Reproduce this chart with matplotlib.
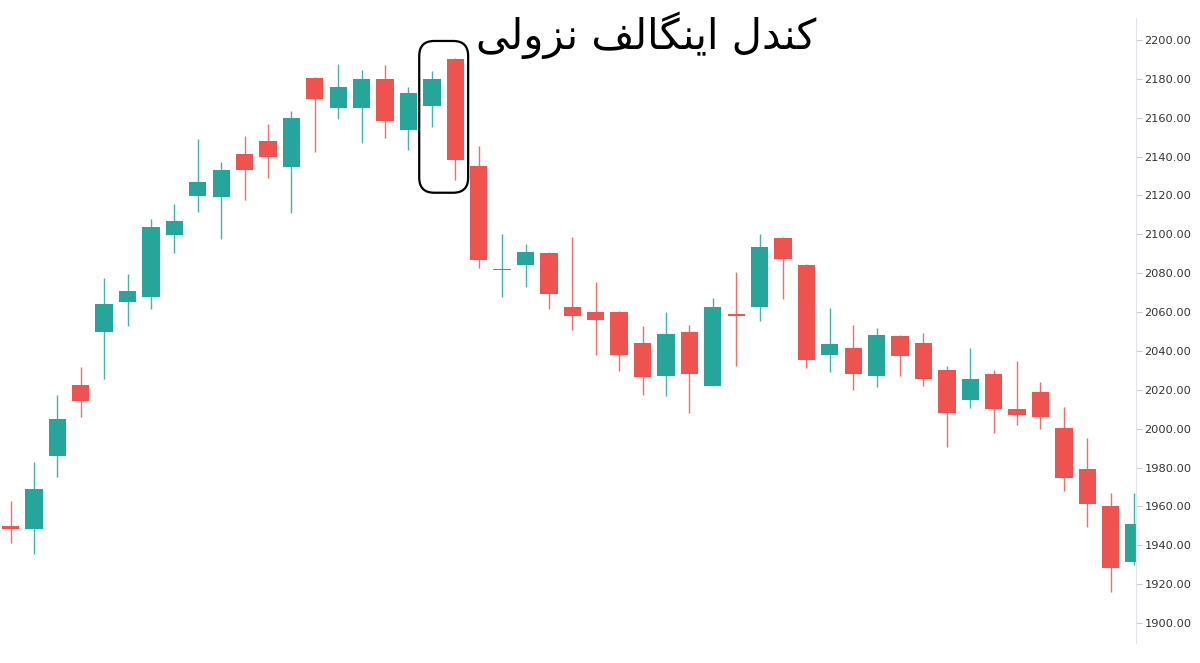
import numpy as np
import matplotlib
matplotlib.use("Agg")
import matplotlib.pyplot as plt
from matplotlib.patches import FancyBboxPatch
from matplotlib.transforms import IdentityTransform

# daily candles
opens = [1950.0, 1948.2, 1985.8, 2022.5, 2049.6, 2065.4, 2067.5, 2099.9, 2119.7, 2119.4,
         2141.1, 2147.8, 2134.9, 2180.3, 2165.2, 2165.2, 2179.8, 2153.7, 2166.2, 2190.2,
         2135.2, 2081.4, 2084.2, 2090.6, 2062.4, 2059.9, 2060.2, 2044.2, 2027.1, 2049.9,
         2022.1, 2059.0, 2062.6, 2098.0, 2084.2, 2037.8, 2041.4, 2027.1, 2047.8, 2044.2,
         2030.0, 2014.9, 2028.1, 2010.1, 2018.7, 2000.2, 1979.1, 1960.2, 1931.5]
highs = [1962.8, 1983.0, 2017.3, 2031.6, 2077.5, 2079.8, 2108.0, 2115.8, 2148.8, 2137.4,
         2150.4, 2156.6, 2163.4, 2180.8, 2187.5, 2184.4, 2187.1, 2176.0, 2184.2, 2190.6,
         2145.5, 2100.2, 2094.9, 2091.0, 2098.8, 2075.3, 2060.5, 2052.8, 2059.9, 2053.3,
         2067.1, 2080.8, 2100.2, 2098.5, 2084.5, 2062.2, 2053.2, 2052.0, 2048.2, 2049.1,
         2032.2, 2041.7, 2030.2, 2034.8, 2024.2, 2011.3, 1995.0, 1967.0, 1966.7]
lows = [1941.2, 1935.3, 1975.3, 2006.2, 2025.8, 2052.6, 2061.7, 2090.3, 2111.5, 2097.7,
        2117.7, 2129.0, 2111.0, 2142.2, 2159.2, 2146.8, 2149.7, 2143.4, 2155.1, 2128.0,
        2082.8, 2067.9, 2072.7, 2061.4, 2050.8, 2037.9, 2029.8, 2017.3, 2016.9, 2008.2,
        2021.8, 2032.4, 2055.6, 2066.9, 2031.1, 2029.0, 2019.9, 2021.6, 2027.1, 2021.9,
        1990.7, 2010.8, 1997.9, 2001.9, 1999.8, 1967.9, 1949.6, 1916.1, 1929.8]
closes = [1948.5, 1968.9, 2005.0, 2014.2, 2064.0, 2070.7, 2103.6, 2106.8, 2127.1, 2133.1,
          2133.1, 2139.6, 2160.0, 2169.5, 2175.7, 2179.8, 2158.3, 2172.6, 2179.8, 2138.2,
          2086.8, 2081.8, 2091.1, 2069.3, 2058.1, 2055.9, 2037.7, 2026.7, 2048.7, 2028.1,
          2062.8, 2058.1, 2093.3, 2087.3, 2035.3, 2043.4, 2028.1, 2048.2, 2037.4, 2025.7,
          2008.1, 2025.6, 2010.1, 2007.0, 2006.2, 1974.5, 1961.1, 1928.5, 1950.9]
price_ticks = [1900, 1920, 1940, 1960, 1980, 2000, 2020, 2040, 2060, 2080,
               2100, 2120, 2140, 2160, 2180, 2200]
engulf = [18, 19]  # the two candles inside the frame

# title "کندل اینگالف نزولی" written with presentation forms in visual order,
# since matplotlib does no arabic shaping / rtl
w_nozooli = "\ufbfd\ufedf\ufeed\ufeb0\ufee7"
w_engulf = "\ufed2\ufedf\ufe8e\ufb95\ufee8\ufbfe\ufe8d"
w_candle = "\ufedd\ufeaa\ufee8\ufb90"
title = w_nozooli + " " + w_engulf + " " + w_candle

up_col = "#26a69a"
down_col = "#ef5350"

o = np.array(opens)
h = np.array(highs)
l = np.array(lows)
c = np.array(closes)
idx = np.arange(len(o))
cols = [up_col if cc >= oo else down_col for oo, cc in zip(o, c)]

fig = plt.figure(figsize=(12, 6.63), dpi=100)
ax = fig.add_axes([0, 0, 1136 / 1200, 1])

ax.vlines(idx, l, h, colors=cols, linewidth=1, alpha=0.85)
body_h = np.maximum(np.abs(c - o), 0.7)
ax.bar(idx, body_h, bottom=np.minimum(o, c), width=0.74, color=cols, linewidth=0)

ax.set_xlim(-0.449, 48.08)
ax.set_ylim(1879.41, 2220.58)

for s in ["top", "left", "bottom"]:
    ax.spines[s].set_visible(False)
ax.spines["right"].set_color("#e0e3eb")
ax.spines["right"].set_bounds(1889.7, 2211.3)
ax.set_xticks([])
ax.yaxis.tick_right()
ax.set_yticks(price_ticks)
ax.set_yticklabels(["%.2f" % t for t in price_ticks])
ax.tick_params(axis="y", length=4, width=0.8, color="#c8cbd2", pad=2,
               labelsize=8.2, labelcolor="#333333")

# rounded frame around the engulfing pair
fig.canvas.draw()
lo = min(l[engulf]) - 6.6
hi = max(h[engulf]) + 8.9
x0, y0 = ax.transData.transform((engulf[0] - 0.54, lo))
x1, y1 = ax.transData.transform((engulf[1] + 0.55, hi))
frame = FancyBboxPatch((x0, y0), x1 - x0, y1 - y0,
                       boxstyle="round,pad=0,rounding_size=15",
                       transform=IdentityTransform(), fill=False,
                       edgecolor="black", linewidth=1.6)
fig.patches.append(frame)

fig.text(646 / 1200, 1 - 35 / 663, title, ha="center", va="center",
         fontsize=30, color="black", family="DejaVu Sans")

fig.savefig("out.png", dpi=100)
